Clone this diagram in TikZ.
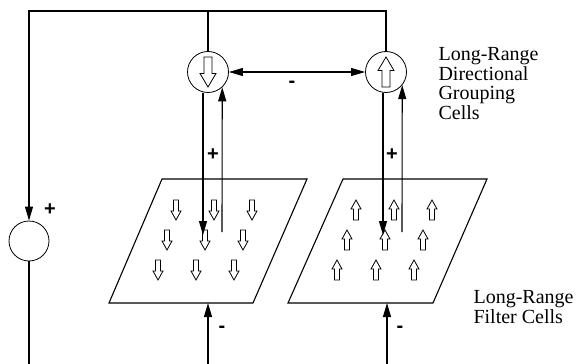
\documentclass[tikz,border=0pt]{standalone}
\usepackage{fontspec}
\setmainfont{Liberation Serif}
\newfontfamily\signfont{Liberation Sans}
\usetikzlibrary{arrows.meta}
\tikzset{
  >={Triangle[length=14pt,width=8pt]},
  cell/.style={circle,draw,line width=0.8pt,minimum size=41pt,inner sep=0pt},
  sign/.style={font=\signfont\bfseries\fontsize{20pt}{20pt}\selectfont,inner sep=0pt},
  label text/.style={font=\fontsize{20pt}{19.5pt}\selectfont,align=left,inner sep=0pt,anchor=north west},
  dnarr/.pic={\draw[line width=0.8pt] (-2.5,-10) -- (2.5,-10) -- (2.5,1) -- (5,1) -- (0,10) -- (-5,1) -- (-2.5,1) -- cycle;}
}
\begin{document}
\begin{tikzpicture}[x=1pt,y=-1pt,line width=1.1pt]
\useasboundingbox (0,0) rectangle (579,364);
% grouping cells
\node[cell] (grpL) at (208,72) {};
\node[cell] (grpR) at (386,72) {};
\pic[xscale=1.6,yscale=1.5] at (grpL) {dnarr};
\pic[xscale=1.6,yscale=-1.5] at (grpR) {dnarr};
\node[cell,minimum size=40pt] (sum) at (29,241) {};
\node[label text] (grpText) at (438,47) {Long-Range\\Directional\\Grouping\\Cells};
% filter cells
\draw (162,179) -- (307,179) -- (253,303) -- (109,303) -- cycle;
\draw (343,179) -- (487,179) -- (433,303) -- (288,303) -- cycle;
\pic at (176,210) {dnarr};
\pic at (214,210) {dnarr};
\pic at (252,210) {dnarr};
\pic at (167,240) {dnarr};
\pic at (205,240) {dnarr};
\pic at (243,240) {dnarr};
\pic at (158,270) {dnarr};
\pic at (196,270) {dnarr};
\pic at (234,270) {dnarr};
\pic[yscale=-1] at (356,210) {dnarr};
\pic[yscale=-1] at (394,210) {dnarr};
\pic[yscale=-1] at (432,210) {dnarr};
\pic[yscale=-1] at (347,240) {dnarr};
\pic[yscale=-1] at (385,240) {dnarr};
\pic[yscale=-1] at (423,240) {dnarr};
\pic[yscale=-1] at (337,270) {dnarr};
\pic[yscale=-1] at (376,270) {dnarr};
\pic[yscale=-1] at (414,270) {dnarr};
\node[label text] (filText) at (473,290) {Long-Range\\Filter Cells};
% connections
\coordinate (corner) at (29,11);
\coordinate (dnL) at (203,235);
\coordinate (upL) at (222,232);
\coordinate (dnR) at (383,235);
\coordinate (upR) at (402,232);
\coordinate (baseL) at (208,303);
\coordinate (baseR) at (387,303);
\coordinate (inL) at (208,364);
\coordinate (inR) at (387,364);
\draw[->] (grpR.north) |- (corner) -- (sum.north);
\draw (grpL.north) -- (grpL.north |- corner);
\draw[<->] (grpL.east) -- (grpR.west);
\draw[->] (dnL |- grpL.south) -- (dnL);
\draw[->] (upL) -- (grpL.-47);
\draw[->] (dnR |- grpR.south) -- (dnR);
\draw[->] (upR) -- (grpR.-39);
\draw[->] (inL) -- (baseL);
\draw[->] (inR) -- (baseR);
\draw (sum.south) -- (sum.south |- inL);
% signs
\node[sign] (plusL) at (213,155) {+};
\node[sign] (plusR) at (392,155) {+};
\node[sign] (plusS) at (50,210) {+};
\node[sign] (minG) at (292,84) {-};
\node[sign] (minL) at (222,329) {-};
\node[sign] (minR) at (400,329) {-};
\end{tikzpicture}
\end{document}
